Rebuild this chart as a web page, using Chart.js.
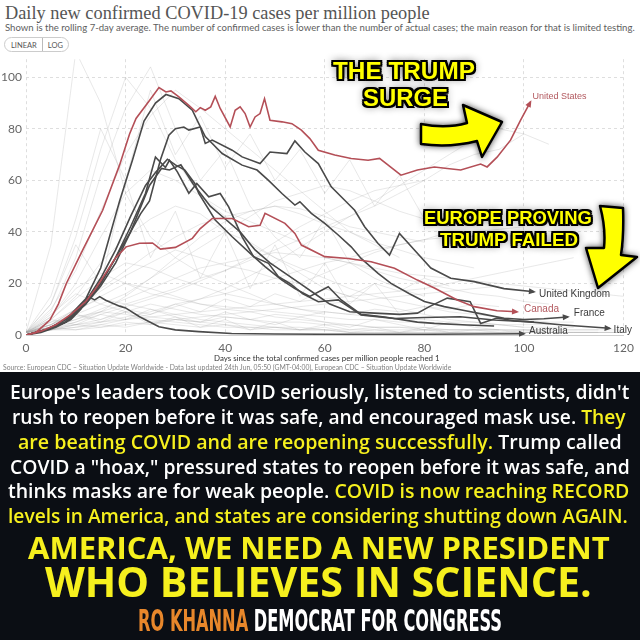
<!DOCTYPE html>
<html lang="en">
<head>
<meta charset="UTF-8">
<title>Daily new confirmed COVID-19 cases per million people</title>
<script src="https://cdn.jsdelivr.net/npm/chart.js"></script>
<style>
    * { margin: 0; padding: 0; box-sizing: border-box; }
    body { width: 640px; height: 640px; position: relative; overflow: hidden; background: #fff; font-family: Lato, sans-serif; }
    .t { position: absolute; white-space: nowrap; line-height: 1; }
    .title { font-family: "Liberation Serif", serif; color: #555; }
    .sub { color: #5e5e5e; }
    .axis-title { color: #333; }
    .source { color: #808080; }
    .toggle { position: absolute; left: 4px; top: 37px; height: 15px; display: flex; border: 1px solid #ccc; border-radius: 8px; font-size: 7.5px; color: #555; overflow: hidden; }
    .toggle span { padding: 3px 5px 0; }
    .toggle span:first-child { border-right: 1px solid #bbb; padding-left: 6px; }
    #wrap { position: absolute; left: 0; top: 48px; width: 640px; height: 310px; }
    .note { font-family: "Liberation Sans", Arial, sans-serif; font-weight: bold; color: #ffff00;
        text-shadow: -2px -2px 0 #000, 2px -2px 0 #000, -2px 2px 0 #000, 2px 2px 0 #000,
                     0 2px 0 #000, 0 -2px 0 #000, 2px 0 0 #000, -2px 0 0 #000, 0 0 8px rgba(0,0,0,0.9); }
    #arrows { position: absolute; left: 0; top: 0; width: 640px; height: 372px; pointer-events: none; }
    #arrows path { fill: #ffff00; stroke: #000; stroke-width: 2.5; stroke-linejoin: round; filter: drop-shadow(0 0 3px rgba(0,0,0,0.7)); }
    #panel { position: absolute; left: 0; top: 372px; width: 640px; height: 268px; background: #0b0e14; }
    .w { font-family: "Open Sans", sans-serif; font-weight: 600; color: #fff; }
    .y { color: #f6f01e; }
    .big { font-family: "Open Sans", sans-serif; font-weight: 700; }
    .cond { font-family: "Liberation Sans Narrow", "DejaVu Sans Condensed", sans-serif; font-weight: bold; color: #fff; transform-origin: 0 0; }
    .o { color: #e8872b; }
</style>
</head>
<body>

    <div class="t title" data-l="5" data-r="430" data-y="13" data-k="0.51">Daily new confirmed COVID-19 cases per million people</div>
    <div class="t sub" data-l="5" data-r="635" data-y="28" data-k="0.53">Shown is the rolling 7-day average. The number of confirmed cases is lower than the number of actual cases; the main reason for that is limited testing.</div>
    <div class="toggle"><span>LINEAR</span><span>LOG</span></div>

    <div id="wrap"><canvas id="casesChart" width="640" height="310"></canvas></div>

    <div class="t axis-title" data-l="214" data-r="440" data-y="359" data-k="0.53">Days since the total confirmed cases per million people reached 1</div>
    <div class="t source" data-l="3" data-r="452" data-y="368" data-k="0.53">Source: European CDC – Situation Update Worldwide - Data last updated 24th Jun, 05:50 (GMT-04:00), European CDC – Situation Update Worldwide</div>

    <!-- Overlay annotations -->
    <svg id="arrows" viewBox="0 0 640 372">
        <path d="M421,124 Q446,129 467,123 L463,105 L502,122 L482,157 L477,141 Q450,148 421,144 Z"/>
        <path d="M600,206 L623,208 Q624,235 621,255 L637,257 L598,288 L586,248 L604,248 Q606,228 600,206 Z"/>
    </svg>
    <div class="t note" data-l="333" data-r="475" data-y="71" data-k="0.49">THE TRUMP</div>
    <div class="t note" data-l="363" data-r="448" data-y="98" data-k="0.49">SURGE</div>
    <div class="t note" data-l="424" data-r="592" data-y="218" data-k="0.49">EUROPE PROVING</div>
    <div class="t note" data-l="440" data-r="578" data-y="240" data-k="0.49">TRUMP FAILED</div>

    <!-- Message panel -->
    <div id="panel"></div>
    <div class="t w" data-l="10" data-r="630" data-y="392">Europe's leaders took COVID seriously, listened to scientists, didn't</div>
    <div class="t w" data-l="12" data-r="626" data-y="417">rush to reopen before it was safe, and encouraged mask use. <span class="y">They</span></div>
    <div class="t w" data-l="18" data-r="622" data-y="442"><span class="y">are beating COVID and are reopening successfully.</span> Trump called</div>
    <div class="t w" data-l="10" data-r="630" data-y="467">COVID a "hoax," pressured states to reopen before it was safe, and</div>
    <div class="t w" data-l="8" data-r="630" data-y="491">thinks masks are for weak people. <span class="y">COVID is now reaching RECORD</span></div>
    <div class="t w y" data-l="8" data-r="628" data-y="516">levels in America, and states are considering shutting down AGAIN.</div>
    <div class="t big y" data-l="28" data-r="610" data-y="548">AMERICA, WE NEED A NEW PRESIDENT</div>
    <div class="t big y" data-l="45" data-r="592" data-y="583">WHO BELIEVES IN SCIENCE.</div>
    <div class="t cond" data-l="138" data-r="502" data-y="620" data-h="31" data-k="0.49"><span class="o">RO KHANNA</span> DEMOCRAT FOR CONGRESS</div>

    <script>
        // Highlighted countries: days since 1 case per million, 7-day avg cases per million
        const usDays = [0, 2, 4.8, 6.5, 8.1, 11.4, 13.4, 15.4, 17.4, 18.8, 20.8, 22.1, 24.8, 26.7, 28.1, 29.1, 30.7, 32.7, 34.1, 35, 36, 37.1, 38, 39, 41, 42, 43, 44, 45, 46, 47, 47.9, 49, 51.4, 53.4, 55.3, 57, 58.7, 62, 65.3, 68.7, 71, 75.3, 78.6, 82, 84.6, 87.3, 91.3, 92.6, 94.6, 97.3, 99.3, 101.3];
        const usCases = [0, 1, 5.8, 12, 20, 33, 40.7, 48.4, 58.8, 66, 78, 84, 91, 96, 94.3, 94.7, 92.4, 89.1, 86.6, 88.2, 87.2, 88.5, 92.6, 87.9, 80.7, 87.2, 88.5, 85.9, 80.7, 84.6, 85.9, 91.7, 83.3, 82.7, 82, 79.5, 76.2, 71.7, 69.8, 68.5, 67.8, 68.5, 62, 64, 65.2, 64.6, 64, 66.3, 65.2, 69, 75.6, 83.3, 90.4];

        const caDays = [0, 3, 6, 9, 12, 14, 16.8, 18, 20.1, 22.8, 25.4, 27, 30, 33.4, 35, 37.4, 41.4, 44.7, 47, 48, 52, 54, 55.3, 60, 64.7, 69.3, 74, 78.6, 82, 86.6, 90, 94.6, 98.6];
        const caCases = [0, 1.5, 4, 8, 13, 18, 26.4, 30, 34.2, 35.6, 35.7, 33.3, 34, 37.5, 41.3, 45.2, 45.2, 42, 42.6, 47.2, 43.3, 39.4, 34.9, 30.4, 29.7, 28.4, 25.9, 21.3, 18.2, 13.6, 11, 9.4, 9];

        const ukDays = [0, 4, 8, 12, 15, 18, 21, 23, 24.8, 27, 28.7, 30, 31.7, 32.7, 35, 36, 37.4, 41.4, 43.4, 47, 49, 52.4, 54, 56, 58.7, 61.3, 64, 66, 68, 70.7, 73, 75, 78, 81.3, 85.3, 90, 96, 102];
        const ukCases = [0, 2, 5, 13, 20, 30, 40, 47, 52, 68, 77.5, 80, 80.7, 79.5, 80.7, 74.3, 75.6, 71.7, 69.1, 66.5, 71, 70.4, 75.3, 71, 66.5, 57.5, 52.3, 48.4, 42, 35.5, 31, 39.4, 33, 26, 22, 20.7, 18, 16.8];

        const frDays = [0, 4, 8, 12, 15, 18.8, 21.4, 23.7, 26, 28.1, 30.7, 33.4, 34.7, 36, 37.4, 39.4, 43.4, 46.4, 48.7, 51.4, 54, 55, 57.3, 60, 62.7, 65.3, 67.3, 70.7, 73.3, 77, 80, 84, 88, 92, 96, 100, 104, 108.8];
        const frCases = [0, 2, 6, 14, 26, 52, 68, 83, 90, 93.3, 91.7, 87.2, 82, 77, 74.3, 70.4, 65.9, 64, 60, 54.9, 50.4, 51.7, 47.2, 43.3, 38.8, 34.2, 29.7, 23.9, 20, 16, 13, 11, 9.5, 8, 6.5, 6, 6.3, 7];

        const itDays = [0, 4, 8, 12, 15, 18, 21, 24, 26, 28, 28.8, 30.4, 32.7, 34.3, 36.7, 39, 40.7, 43.4, 45.7, 48.7, 50.7, 53, 55.6, 58.7, 62.7, 67.3, 74, 80, 87.2, 94, 100.6, 107.9, 117.2];
        const itCases = [0, 2, 5, 12, 20, 30, 42, 55, 69, 65, 67.8, 63.3, 55, 58.8, 53.6, 54.9, 49.7, 38.1, 30.4, 27.8, 22.6, 20, 16, 12.9, 13.6, 7.8, 6.4, 6.8, 7.1, 5.8, 5.2, 3.9, 2.6];

        const auDays = [0, 3, 6, 9, 11, 12.4, 13.8, 14.8, 16, 18.8, 20, 22.8, 26.7, 30, 34.7, 41.3, 50, 60, 70, 80, 90, 100];
        const auCases = [0, 1, 3, 6, 10, 14.9, 13.6, 14.9, 13.5, 11.2, 10.5, 7.1, 3.2, 2, 1.3, 0.6, 0.4, 0.3, 0.3, 0.3, 0.4, 0.5];

        // two more dark, unlabelled European lines
        const euADays = [0, 4, 8, 12, 15, 18, 21, 24, 26, 28.4, 30, 31.9, 33.9, 34.7, 38, 41.4, 45.4, 48, 51.4, 54, 57, 60.7, 63.3, 67.3, 72, 78.6, 82, 88.6, 94];
        const euACases = [0, 2, 6, 13, 22, 33, 46, 58, 63, 68.2, 66, 64, 58.8, 54.9, 44.6, 38.1, 31, 26.5, 21.3, 18, 15, 18.7, 13.6, 8, 7, 5, 4.5, 3.9, 3.5];
        const euBDays = [0, 4, 8, 12, 15, 18, 21, 24.8, 27.2, 28.8, 31.1, 33.5, 35, 37, 40, 43, 46, 49, 52, 55, 58, 61, 65, 70, 75, 78.6, 81, 84.6, 89.2, 91.3, 94.6, 98, 102];
        const euBCases = [0, 2, 5, 12, 19, 28, 40, 58, 64.6, 64, 66, 58.8, 55, 50, 45, 40, 33, 28, 24, 20, 16, 12, 9, 8.5, 8, 8.5, 11, 14.3, 12.9, 4.5, 6.6, 5.5, 5];

        // all other countries (faint), sampled every 5 days
        const bgDays = [0, 5, 10, 15, 20, 25, 30, 35, 40, 45, 50, 55, 60, 65, 70, 75, 80, 85, 90, 95, 100, 105, 110, 115, 120];
        const bgCases = [
            [1, 7, 20, 38, 55, 64, 60, 54, 48, 44, 40, 36, 30, 28, 25, 22, 20, 18, 16, 15, 13, 12, null, null, null],
            [1, 4, 10, 17, 23, 28, 33, 30, 27, 25, 22, 20, 24, 28, 32, 35, 37, 40, 38, null, null, null, null, null, null],
            [1, 12, 38, 72, 100, 88, 68, 54, 46, 35, 30, 24, 18, 15, 12, 10, 8, 6, 5, 4, 3, null, null, null, null],
            [1, 3, 6, 9, 12, 15, 18, 22, 25, 29, 33, 37, 42, 46, 50, 55, 60, 66, 70, 72, 78, null, null, null, null],
            [1, 4, 9, 15, 20, 18, 15, 12, 10, 9, 7, 6, 5, 4, 3, 3, 2, 2, 2, 2, 1, 1, 1, 1, null],
            [1, 6, 15, 28, 38, 45, 50, 47, 40, 36, 30, 26, 22, 18, 15, 13, 11, 9, 8, 7, 6, 5, 5, null, null],
            [1, 2, 4, 6, 9, 12, 10, 8, 7, 6, 5, 5, 4, 4, 3, 3, 3, 2, 2, 2, 2, 2, 2, 2, 2],
            [1, 9, 30, 62, 88, 104, 80, 60, 72, 50, 38, 30, 45, 28, 22, 18, 15, null, null, null, null, null, null, null, null],
            [1, 3, 5, 8, 11, 14, 17, 21, 25, 30, 36, 42, 47, 52, 56, 58, 60, null, null, null, null, null, null, null, null],
            [1, 2, 3, 5, 7, 9, 12, 14, 16, 19, 22, 25, 28, 30, 33, 35, 37, 38, 40, 41, 42, null, null, null, null],
            [1, 5, 10, 14, 12, 10, 8, 6, 5, 4, 3, 2, 2, 1, 1, 1, 1, 1, 1, 1, 1, 1, 1, 1, 1],
            [1, 4, 8, 12, 16, 22, 28, 34, 40, 46, 52, 55, 58, 56, 52, 48, 45, 42, null, null, null, null, null, null, null],
            [1, 7, 18, 24, 20, 16, 14, 12, 11, 10, 9, 8, 7, 6, 6, 5, 5, 4, 4, 4, 3, 3, 3, null, null],
            [1, 12, 35, 20, 60, 30, 48, 22, 40, 18, 35, 15, 28, 12, 20, 8, null, null, null, null, null, null, null, null, null],
            [1, 3, 6, 10, 14, 18, 22, 26, 28, 30, 32, 31, 30, 28, 26, 24, 23, 22, 21, 20, 19, 18, 17, 16, 15],
            [1, 2, 2, 3, 4, 5, 6, 7, 8, 9, 10, 11, 12, 13, 14, 15, 16, 17, 18, 19, null, null, null, null, null],
            [1, 6, 14, 22, 28, 26, 22, 19, 16, 14, 12, 10, 9, 8, 7, 6, 6, 5, 5, 4, 4, 4, null, null, null],
            [1, 4, 8, 6, 10, 8, 12, 9, 14, 11, 16, 13, 18, 15, 20, 17, 22, 19, null, null, null, null, null, null, null],
            [1, 10, 25, 48, 70, 85, 95, 88, 80, 72, 64, 56, 48, 40, 35, 30, null, null, null, null, null, null, null, null, null],
            [1, 3, 4, 5, 6, 7, 8, 9, 10, 11, 12, 13, 14, 15, 16, 17, 18, 20, 22, 24, 26, 28, 30, null, null],
            [1, 5, 7, 9, 8, 6, 5, 4, 3, 3, 2, 2, 2, 1, 1, 1, 1, 1, 1, 1, 1, 1, 1, 1, 1],
            [1, 2, 5, 9, 15, 22, 30, 38, 44, 48, 50, 49, 46, 42, 40, 38, 36, null, null, null, null, null, null, null, null],
            [1, 8, 16, 12, 9, 7, 6, 5, 4, 3, 3, 3, 2, 2, 2, 2, 2, 2, 2, 2, 2, 2, 2, 2, null],
            [1, 4, 10, 18, 25, 32, 38, 43, 46, 48, 50, 47, 43, 40, 36, 33, 30, 28, 26, null, null, null, null, null, null],
            [1, 35, 110, 90, 55, 38, 30, 24, 20, 16, 12, 10, 8, null, null, null, null, null, null, null, null, null, null, null, null],
            [1, 3, 8, 5, 9, 4, 7, 3, 6, 2, 5, 2, 4, 2, 3, 1, 3, 1, 2, 1, 2, 1, 1, 1, 1],
            [1, 2, 4, 3, 5, 4, 6, 5, 7, 6, 8, 7, 9, 8, 10, 9, 11, 10, 12, 11, null, null, null, null, null],
            [1, 6, 4, 8, 6, 10, 7, 5, 9, 6, 4, 7, 5, 3, 6, 4, 2, 5, 3, 2, null, null, null, null, null],
            [1, 3, 2, 4, 3, 5, 4, 3, 4, 2, 3, 2, 3, 1, 2, 1, 2, 1, 1, 1, 1, 1, null, null, null],
            [1, 15, 45, 80, 60, 95, 70, 85, 65, 78, 60, 72, 55, 68, 50, 62, 45, null, null, null, null, null, null, null, null],
            [1, 2, 3, 4, 6, 8, 11, 14, 18, 23, 28, 34, 40, 46, 52, 58, 64, 70, 76, 80, 78, 74, null, null, null]
        ];

        const yTicks = [0, 20, 40, 60, 80, 100];
        const xTicks = [0, 20, 40, 60, 80, 100, 120];
        const labelNames = ['United States', 'United Kingdom', 'Canada', 'France', 'Australia', 'Italy'];

        // ---- text fitting for the html texts ----
        document.querySelectorAll('.t').forEach(function (el) {
            const l = +el.dataset.l, r = +el.dataset.r, cy = +el.dataset.y;
            const k = el.dataset.k ? +el.dataset.k : 0.53;
            let size;
            if (el.dataset.h) {
                size = +el.dataset.h;
                el.style.fontSize = size + 'px';
                const w = el.getBoundingClientRect().width;
                el.style.transform = 'scaleX(' + ((r - l) / w) + ')';
            } else {
                el.style.fontSize = '40px';
                const w = el.getBoundingClientRect().width;
                size = 40 * (r - l) / w;
                el.style.fontSize = size + 'px';
            }
            el.style.left = l + 'px';
            el.style.top = (cy - size * k) + 'px';
        });

        // ---- chart ----
        const red = '#b44f57';
        const dark = '#4a4a4a';
        const pts = (days, vals) => days.map((d, i) => ({ x: d, y: vals[i] }));

        const main = [
            { label: 'United States', data: pts(usDays, usCases), borderColor: red },
            { label: 'Canada', data: pts(caDays, caCases), borderColor: red },
            { label: 'United Kingdom', data: pts(ukDays, ukCases), borderColor: dark },
            { label: 'France', data: pts(frDays, frCases), borderColor: dark },
            { label: 'Italy', data: pts(itDays, itCases), borderColor: dark },
            { label: 'Australia', data: pts(auDays, auCases), borderColor: dark },
            { label: '', data: pts(euADays, euACases), borderColor: dark },
            { label: '', data: pts(euBDays, euBCases), borderColor: dark }
        ].map(ds => Object.assign(ds, { borderWidth: 1.6, order: 1 }));

        const faint = bgCases.map(v => ({
            label: '', data: pts(bgDays, v), borderColor: 'rgba(165,165,165,0.32)', borderWidth: 0.8, order: 5
        }));

        // arrowheads and country names at the end of each highlighted line
        const labelOffsets = {
            'United States': [2, -5], 'United Kingdom': [5, 3], 'Canada': [7, -3],
            'France': [6, -4], 'Australia': [5, -2], 'Italy': [4, 2]
        };
        const endLabels = {
            id: 'endLabels',
            afterDatasetsDraw(chart) {
                const ctx = chart.ctx;
                chart.data.datasets.forEach((ds, i) => {
                    if (labelNames.indexOf(ds.label) < 0) return;
                    const p = chart.getDatasetMeta(i).data;
                    const a = p[p.length - 2], b = p[p.length - 1];
                    ctx.save();
                    ctx.fillStyle = ds.borderColor;
                    ctx.translate(b.x, b.y);
                    ctx.rotate(Math.atan2(b.y - a.y, b.x - a.x));
                    ctx.beginPath();
                    ctx.moveTo(2, 0);
                    ctx.lineTo(-5, -3);
                    ctx.lineTo(-5, 3);
                    ctx.closePath();
                    ctx.fill();
                    ctx.restore();

                    const off = labelOffsets[ds.label];
                    ctx.save();
                    ctx.fillStyle = ds.borderColor === red ? '#b2585e' : '#3c3c3c';
                    ctx.font = (ds.label === 'United States' ? '9px' : '10px') + ' "Liberation Sans", Arial, sans-serif';
                    ctx.textBaseline = 'middle';
                    ctx.fillText(ds.label, b.x + off[0], b.y + off[1]);
                    ctx.restore();
                });
            }
        };

        Chart.defaults.font.family = 'Lato, sans-serif';

        new Chart(document.getElementById('casesChart'), {
            type: 'line',
            data: { datasets: main.concat(faint) },
            options: {
                responsive: false,
                animation: false,
                spanGaps: false,
                elements: { point: { radius: 0 }, line: { tension: 0 } },
                layout: { padding: { left: 0, right: 12, top: 0, bottom: 0 } },
                plugins: { legend: { display: false }, tooltip: { enabled: false } },
                scales: {
                    x: {
                        type: 'linear', min: 0, max: 120,
                        afterBuildTicks: axis => { axis.ticks = xTicks.map(v => ({ value: v })); },
                        afterFit: axis => { axis.height = 23; },
                        ticks: { color: '#666', font: { size: 12 }, padding: 6 },
                        grid: { color: '#dedede', drawTicks: false },
                        border: { display: true, color: '#cfcfcf', dash: [3, 3] }
                    },
                    y: {
                        min: 0, max: 107,
                        afterBuildTicks: axis => { axis.ticks = yTicks.map(v => ({ value: v })); },
                        afterFit: axis => { axis.width = 26; },
                        ticks: { color: '#666', font: { size: 12 }, padding: 4 },
                        grid: { color: '#dedede', drawTicks: false },
                        border: { display: false, dash: [3, 3] }
                    }
                }
            },
            plugins: [endLabels]
        });
    </script>
</body>
</html>
